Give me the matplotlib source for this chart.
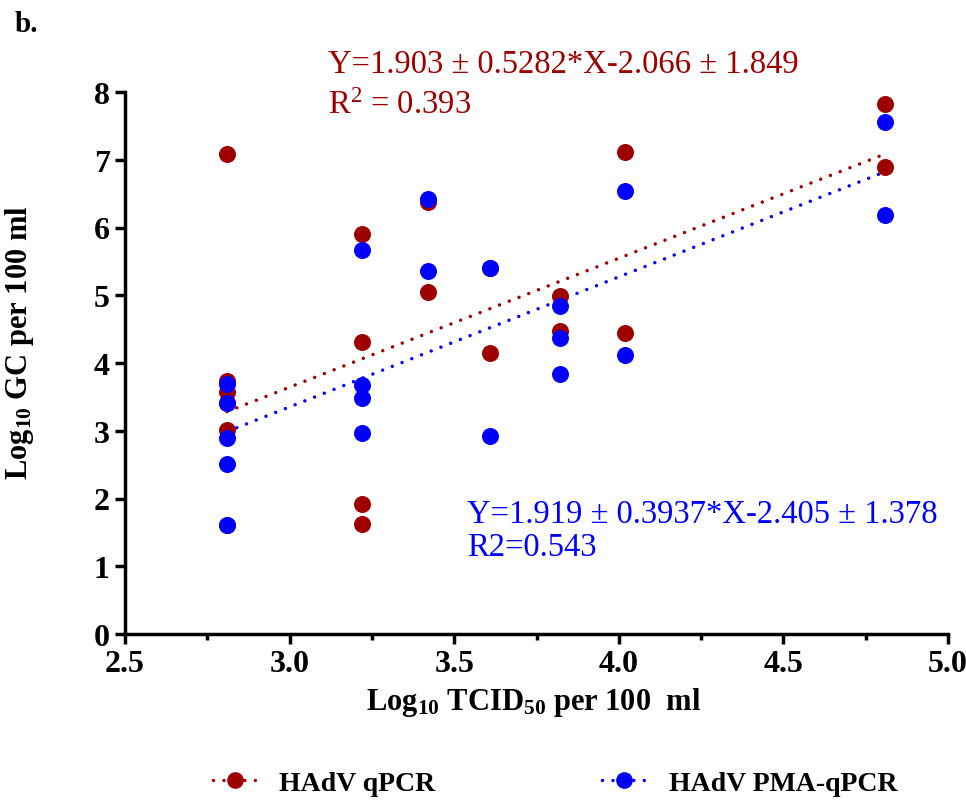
import matplotlib.pyplot as plt
from matplotlib.lines import Line2D
import numpy as np

plt.rcParams['font.family'] = 'Liberation Serif'
plt.rcParams['mathtext.default'] = 'regular'

RED = '#9E0000'
BLUE = '#0000FF'

# Log10 TCID50 per 100 ml
x_qpcr = [2.81, 2.81, 2.81, 2.81, 2.81, 2.81,
          3.22, 3.22, 3.22, 3.22,
          3.42, 3.42, 3.61, 3.61,
          3.82, 3.82, 4.02, 4.02, 4.81, 4.81]
y_qpcr = [7.08, 3.74, 3.57, 3.41, 3.01, 1.61,
          5.90, 4.31, 1.92, 1.62,
          6.37, 5.05, 5.40, 4.15,
          4.99, 4.47, 7.11, 4.44, 7.82, 6.89]

x_pma = [2.81, 2.81, 2.81, 2.81, 2.81,
         3.22, 3.22, 3.22, 3.22,
         3.42, 3.42, 3.61, 3.61,
         3.82, 3.82, 3.82, 4.02, 4.02, 4.81, 4.81]
y_pma = [3.69, 3.41, 2.89, 2.51, 1.61,
         5.67, 3.67, 3.48, 2.97,
         6.42, 5.36, 5.40, 2.92,
         4.84, 4.37, 3.84, 6.54, 4.12, 7.56, 6.18]

# linear fits as reported: slope, intercept
fit_qpcr = (1.903, -2.066)
fit_pma = (1.919, -2.405)
fit_range = (2.81, 4.81)

fig = plt.figure(figsize=(9.66, 8.03), dpi=100)
ax = fig.add_axes([125/966, 1 - 635/803, (948 - 125)/966, (635 - 93)/803])

dot = (0, (0.01, 3.0))
xf = np.array(fit_range)
ax.plot(xf, fit_qpcr[0]*xf + fit_qpcr[1], color=RED, lw=2.5,
        linestyle=dot, dash_capstyle='round')
ax.plot(xf, fit_pma[0]*xf + fit_pma[1], color=BLUE, lw=2.5,
        linestyle=dot, dash_capstyle='round')

ax.scatter(x_qpcr, y_qpcr, s=150, color=RED, zorder=3, linewidths=0)
ax.scatter(x_pma, y_pma, s=150, color=BLUE, zorder=4, linewidths=0)

ax.set_xlim(2.5, 5.0)
ax.set_ylim(0, 8)
ax.set_xticks(np.arange(2.5, 5.01, 0.5))
ax.set_xticks(np.arange(2.75, 5.0, 0.5), minor=True)
ax.set_yticks(range(0, 9))
ax.set_xticklabels([f'{v:.1f}' for v in np.arange(2.5, 5.01, 0.5)])

for s in ['top', 'right']:
    ax.spines[s].set_visible(False)
for s in ['left', 'bottom']:
    ax.spines[s].set_linewidth(2.5)
ax.tick_params(which='major', length=7, width=2.5, labelsize=23, pad=4)
ax.tick_params(which='minor', length=4, width=2.5)
for lab in ax.get_xticklabels() + ax.get_yticklabels():
    lab.set_fontweight('bold')

ax.set_xlabel('Log$_{10}$ TCID$_{50}$ per 100  ml', fontsize=22,
              fontweight='bold')
ax.set_ylabel('Log$_{10}$ GC per 100 ml', fontsize=22, fontweight='bold')
ax.xaxis.set_label_coords(0.496, -0.095)
ax.yaxis.set_label_coords(-0.108, 0.54)

fig.text(15/966, 1 - 24/803, 'b.', fontsize=21, fontweight='bold', va='center')

fig.text(328/966, 1 - 65/803, 'Y=1.903 ± 0.5282*X-2.066 ± 1.849',
         color=RED, fontsize=23.5, va='center')
fig.text(328/966, 1 - 106/803, 'R$^{2}$ = 0.393',
         color=RED, fontsize=23.5, va='center')
fig.text(467/966, 1 - 515/803, 'Y=1.919 ± 0.3937*X-2.405 ± 1.378',
         color=BLUE, fontsize=23.5, va='center')
fig.text(467/966, 1 - 548/803, 'R2=0.543',
         color=BLUE, fontsize=23.5, va='center')

handles = [
    Line2D([0], [0], color=RED, lw=2.5, linestyle=dot, dash_capstyle='round',
           marker='o', markersize=12, markeredgewidth=0),
    Line2D([0], [0], color=BLUE, lw=2.5, linestyle=dot, dash_capstyle='round',
           marker='o', markersize=12, markeredgewidth=0),
]
fig.legend(handles, ['HAdV qPCR', 'HAdV PMA-qPCR'], loc='center',
           bbox_to_anchor=(555/966, 1 - 784/803), ncol=2, frameon=False,
           handlelength=1.6, columnspacing=6, handletextpad=0.8,
           prop={'weight': 'bold', 'size': 20})

fig.savefig('out.png', dpi=100)
